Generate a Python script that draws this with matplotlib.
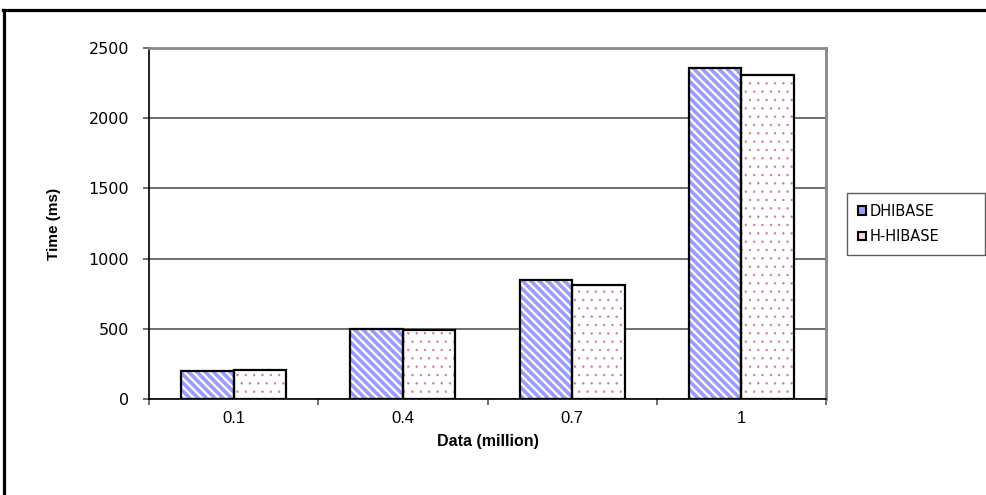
import matplotlib
matplotlib.use("Agg")
import matplotlib.pyplot as plt
import numpy as np
from matplotlib.lines import Line2D
from matplotlib.patches import Patch

data_sizes = ["0.1", "0.4", "0.7", "1"]
dhibase = [200, 495, 850, 2355]
h_hibase = [208, 490, 812, 2305]
y_ticks = [0, 500, 1000, 1500, 2000, 2500]

plt.rcParams['font.family'] = ['Liberation Sans', 'DejaVu Sans']
narrow = ['Liberation Sans Narrow', 'Liberation Sans', 'DejaVu Sans']
wide = ['DejaVu Sans']

fig = plt.figure(figsize=(9.87, 4.95), dpi=100)
fig.patch.set_facecolor('white')
ax = fig.add_axes([0.151, 0.194, 0.686, 0.709])

x = np.arange(len(data_sizes))
w = 0.31

# hatch layers first, black outlines drawn on top
with plt.rc_context({'hatch.linewidth': 2.6}):
    hb1 = ax.bar(x - w / 2, dhibase, w, color='white', edgecolor='#9a9cff',
                 hatch='\\\\\\\\', linewidth=0, zorder=2)
with plt.rc_context({'hatch.linewidth': 0.5}):
    hb2 = ax.bar(x + w / 2, h_hibase, w, color='white', edgecolor='#d47a9a',
                 hatch='..', linewidth=0, zorder=2)
for bars, lw in ((hb1, 2.6), (hb2, 0.5)):
    for p in bars:
        if hasattr(p, 'set_hatch_linewidth'):
            p.set_hatch_linewidth(lw)
ax.bar(x - w / 2, dhibase, w, fill=False, edgecolor='black', linewidth=1.6, zorder=3)
ax.bar(x + w / 2, h_hibase, w, fill=False, edgecolor='black', linewidth=1.6, zorder=3)

ax.set_xlim(-0.5, len(data_sizes) - 0.5)
ax.set_ylim(0, 2500)
ax.set_yticks(y_ticks)
ax.set_yticklabels([str(v) for v in y_ticks], fontsize=11.5, family=wide)
ax.yaxis.grid(True, color='#555555', linewidth=1.2)
ax.set_axisbelow(True)

# category boundaries carry the tick marks, centres carry the labels
ax.set_xticks(np.arange(len(data_sizes) + 1) - 0.5)
ax.set_xticklabels([])
ax.set_xticks(x, minor=True)
ax.set_xticklabels(data_sizes, minor=True, fontsize=12, family=narrow)
ax.tick_params(axis='x', which='major', length=4.5, color='#555555', width=1.2)
ax.tick_params(axis='x', which='minor', length=0, pad=9)
ax.tick_params(axis='y', length=4.5, color='#555555', width=1.2, pad=10)

for side in ('top', 'right'):
    ax.spines[side].set_color('#888888')
    ax.spines[side].set_linewidth(2)
for side in ('left', 'bottom'):
    ax.spines[side].set_color('black')
    ax.spines[side].set_linewidth(1.2)

ax.set_ylabel('Time (ms)', fontsize=11, fontweight='bold')
ax.yaxis.set_label_coords(-0.13, 0.5)
ax.set_xlabel('Data (million)', fontsize=11.5, fontweight='bold', family=narrow)
ax.xaxis.set_label_coords(0.5, -0.10)

handles = [Patch(facecolor='#9a9cff', edgecolor='black', linewidth=1.5),
           Patch(facecolor='#f4d4dc', edgecolor='black', linewidth=1.5)]
leg = fig.legend(handles, ['DHIBASE', 'H-HIBASE'], loc='upper left',
                 bbox_to_anchor=(847 / 987, 1 - 193 / 495, 138 / 987, 0.0),
                 mode='expand', borderaxespad=0, prop={'family': wide, 'size': 10.5},
                 handlelength=0.55, handleheight=0.55, handletextpad=0.25,
                 labelspacing=0.7, borderpad=0.75, fancybox=False)
leg.get_frame().set_edgecolor('#333333')
leg.get_frame().set_linewidth(1.0)

# outer frame, left and top edges only
fig.add_artist(Line2D([4.5 / 987, 4.5 / 987], [0, 1 - 9.5 / 495],
                      transform=fig.transFigure, color='black', linewidth=2.3))
fig.add_artist(Line2D([3.5 / 987, 1], [1 - 9.5 / 495, 1 - 9.5 / 495],
                      transform=fig.transFigure, color='black', linewidth=2.3))

fig.savefig('out.png', dpi=100)
